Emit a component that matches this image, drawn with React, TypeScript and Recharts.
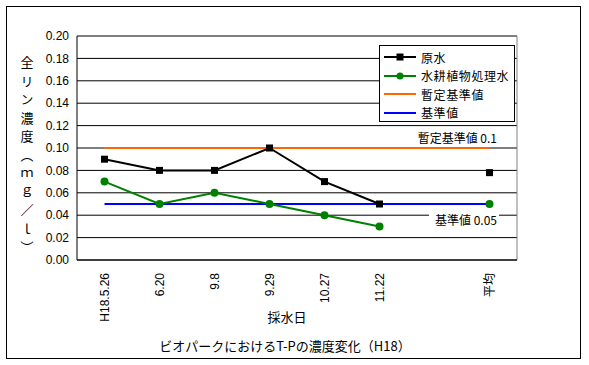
import React from 'react';
import { LineChart, Line, XAxis, YAxis, CartesianGrid, Legend, ReferenceLine } from 'recharts';

const categories = ['H18.5.26', '6.20', '9.8', '9.29', '10.27', '11.22', '', '平均'];
const slots = [0.5, 1.5, 2.5, 3.5, 4.5, 5.5, 6.5, 7.5];
const rawWater = [0.09, 0.08, 0.08, 0.1, 0.07, 0.05, null, 0.078];
const treatedWater = [0.07, 0.05, 0.06, 0.05, 0.04, 0.03, null, 0.05];
const provisionalStd = [0.1, 0.1, 0.1, 0.1, 0.1, 0.1, 0.1, 0.1];
const standardValue = [0.05, 0.05, 0.05, 0.05, 0.05, 0.05, 0.05, 0.05];
const yTicks = [0, 0.02, 0.04, 0.06, 0.08, 0.1, 0.12, 0.14, 0.16, 0.18, 0.2];
const boundaryTicks = [1, 2, 3, 4, 5, 6, 7];

const data = categories.map((date, i) => ({
  date,
  slot: slots[i],
  raw: rawWater[i],
  treated: treatedWater[i],
  provisional: provisionalStd[i],
  standard: standardValue[i],
}));

const FONT = '"Liberation Sans", "Noto Sans CJK JP", sans-serif';
const JP = '"Noto Sans CJK JP", "Liberation Sans", sans-serif';

const legendItems = [
  { name: '原水', color: '#000000', marker: 'square' },
  { name: '水耕植物処理水', color: '#008000', marker: 'circle' },
  { name: '暫定基準値', color: '#FF6600', marker: 'none' },
  { name: '基準値', color: '#0000FF', marker: 'none' },
];

function LegendBox() {
  return (
    <div
      style={{
        width: 136,
        height: 77,
        boxSizing: 'border-box',
        border: '1px solid #000',
        background: '#fff',
        paddingTop: 2,
        fontFamily: JP,
        fontSize: 12,
      }}
    >
      {legendItems.map((it) => (
        <div key={it.name} style={{ display: 'flex', alignItems: 'center', height: 18.5 }}>
          <svg width={40} height={18} style={{ flex: 'none' }}>
            <line x1={4} x2={36} y1={9} y2={9} stroke={it.color} strokeWidth={2} />
            {it.marker === 'square' && <rect x={16.5} y={5.5} width={7} height={7} fill={it.color} />}
            {it.marker === 'circle' && <circle cx={20} cy={9} r={3.5} fill={it.color} />}
          </svg>
          <span style={{ marginLeft: 1, letterSpacing: 0.6, whiteSpace: 'nowrap', color: '#000' }}>{it.name}</span>
        </div>
      ))}
    </div>
  );
}

const SquareDot = (props: any) => {
  const { cx, cy, index } = props;
  if (cx == null || cy == null) return <g key={index} />;
  return <rect key={index} x={cx - 3.5} y={cy - 3.5} width={7} height={7} fill="#000" />;
};

const CircleDot = (props: any) => {
  const { cx, cy, index } = props;
  if (cx == null || cy == null) return <g key={index} />;
  return <circle key={index} cx={cx} cy={cy} r={4} fill="#008000" />;
};

const XTick = (props: any) => {
  const { x, payload } = props;
  const y = 273;
  return (
    <text
      x={x}
      y={y}
      transform={`rotate(-90 ${x} ${y})`}
      textAnchor="end"
      dominantBaseline="central"
      fontSize={12}
      fill="#000"
      fontFamily={FONT}
    >
      {payload.value}
    </text>
  );
};

const YLabel = () => (
  <text
    x={27}
    y={56}
    style={{ writingMode: 'vertical-rl' }}
    fontSize={13}
    letterSpacing={5.5}
    fill="#000"
    fontFamily={JP}
  >
    全リン濃度（ｍｇ／ｌ）
  </text>
);

const XLabels = () => (
  <g fontFamily={JP} fill="#000">
    <text x={287} y={316} textAnchor="middle" dominantBaseline="central" fontSize={13}>
      採水日
    </text>
    <text x={285} y={345} textAnchor="middle" dominantBaseline="central" fontSize={13}>
      ビオパークにおけるT-Pの濃度変化（H18）
    </text>
  </g>
);

const ProvisionalLabel = () => (
  <text x={497} y={137} textAnchor="end" dominantBaseline="central" fontSize={12} fontFamily={JP} fill="#000">
    暫定基準値 0.1
  </text>
);

const StandardLabel = () => (
  <g>
    <rect x={429} y={211} width={70} height={16} fill="#fff" />
    <text x={497} y={219} textAnchor="end" dominantBaseline="central" fontSize={12} fontFamily={JP} fill="#000">
      基準値 0.05
    </text>
  </g>
);

export default function App() {
  return (
    <div style={{ position: 'absolute', left: 0, top: 0, width: 589, height: 365, background: '#fff' }}>
      <div
        style={{
          position: 'absolute',
          left: 6,
          top: 6,
          width: 575,
          height: 353,
          boxSizing: 'border-box',
          border: '1px solid #000',
        }}
      />
      <div style={{ position: 'absolute', left: 0, top: 0 }}>
        <LineChart
          width={589}
          height={365}
          data={data}
          margin={{ top: 36, right: 72, left: 27, bottom: 45 }}
          style={{ fontFamily: FONT }}
        >
          <CartesianGrid vertical={false} stroke="#000" strokeWidth={1} />
          <XAxis
            xAxisId="b"
            dataKey="slot"
            type="number"
            domain={[0, 8]}
            allowDataOverflow
            ticks={boundaryTicks}
            interval={0}
            mirror
            tickFormatter={() => ''}
            axisLine={false}
            tickLine={{ stroke: '#000', strokeWidth: 1 }}
            tickSize={5}
            height={0}
          />
          <XAxis
            dataKey="date"
            padding={{ left: 27.5, right: 27.5 }}
            axisLine={{ stroke: '#000' }}
            tickLine={false}
            tick={<XTick />}
            interval={0}
            height={60}
            label={{ content: <XLabels /> }}
          />
          <YAxis
            domain={[0, 0.2]}
            ticks={yTicks}
            interval={0}
            width={50}
            axisLine={{ stroke: '#000' }}
            tickLine={false}
            tick={{ fill: '#000', fontSize: 12, fontFamily: FONT }}
            tickFormatter={(v: number) => v.toFixed(2)}
            label={{ content: <YLabel /> }}
          />
          <ReferenceLine y={0.2} stroke="#808080" strokeWidth={1} />
          <ReferenceLine xAxisId="b" x={8} stroke="#808080" strokeWidth={1} />
          <ReferenceLine y={0.1} stroke="none" label={{ content: <ProvisionalLabel /> }} />
          <ReferenceLine y={0.05} stroke="none" label={{ content: <StandardLabel /> }} />
          <Legend
            layout="vertical"
            align="center"
            verticalAlign="middle"
            content={<LegendBox />}
            wrapperStyle={{ position: 'absolute', left: 379, top: 45, width: 136, height: 77 }}
          />
          <Line
            xAxisId="b"
            dataKey="standard"
            stroke="none"
            dot={false}
            activeDot={false}
            legendType="none"
            isAnimationActive={false}
          />
          <Line
            dataKey="provisional"
            name="暫定基準値"
            stroke="#FF6600"
            strokeWidth={2}
            dot={false}
            activeDot={false}
            isAnimationActive={false}
          />
          <Line
            dataKey="standard"
            name="基準値"
            stroke="#0000FF"
            strokeWidth={2}
            dot={false}
            activeDot={false}
            isAnimationActive={false}
          />
          <Line
            dataKey="raw"
            name="原水"
            stroke="#000000"
            strokeWidth={2}
            dot={SquareDot}
            activeDot={false}
            isAnimationActive={false}
          />
          <Line
            dataKey="treated"
            name="水耕植物処理水"
            stroke="#008000"
            strokeWidth={2}
            dot={CircleDot}
            activeDot={false}
            isAnimationActive={false}
          />
        </LineChart>
      </div>
    </div>
  );
}
